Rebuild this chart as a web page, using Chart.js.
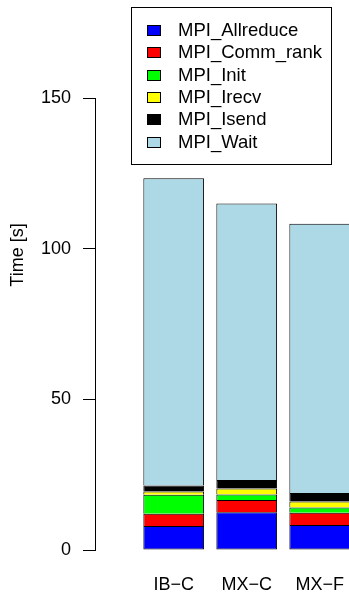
<!DOCTYPE html>
<html>
<head>
<meta charset="utf-8">
<script src="https://cdn.jsdelivr.net/npm/chart.js@4/dist/chart.umd.min.js"></script>
<style>
  html, body { margin: 0; padding: 0; background: #ffffff; }
  #wrap { width: 349px; height: 594px; position: relative; }
</style>
</head>
<body>
<div id="wrap"><canvas id="c" width="349" height="594"></canvas></div>
<script>
// ---- data ----
const categories = ['IB\u2212C', 'MX\u2212C', 'MX\u2212F'];
const seriesNames = ['MPI_Allreduce', 'MPI_Comm_rank', 'MPI_Init', 'MPI_Irecv', 'MPI_Isend', 'MPI_Wait'];
const allreduce = [8.0, 12.5, 8.3];
const commRank  = [4.0, 4.1, 4.1];
const init      = [6.3, 1.8, 1.7];
const irecv     = [1.1, 2.0, 2.0];
const isend     = [2.0, 2.8, 2.8];
const wait      = [102.0, 91.8, 89.4];
const yTicks    = [0, 50, 100, 150];
const yTitle    = 'Time [s]';

// ---- styles ----
const seriesColors = ['#0000FF', '#FF0000', '#00FF00', '#FFFF00', '#000000', '#ADD8E6'];
const FONT = "'Liberation Sans', Arial, Helvetica, sans-serif";
Chart.defaults.font.family = FONT;
Chart.defaults.font.size = 18;
Chart.defaults.color = '#000000';

const seriesValues = [allreduce, commRank, init, irecv, isend, wait];
const datasets = seriesNames.map((name, k) => ({
  label: name,
  data: seriesValues[k].map((v, i) => ({ x: i, y: v })),
  backgroundColor: seriesColors[k],
  borderColor: '#000000',
  borderWidth: 1,
  borderSkipped: k === 0 ? false : 'start'
}));

const boxLegend = {
  id: 'boxLegend',
  afterDraw(chart) {
    const ctx = chart.ctx;
    ctx.save();
    ctx.strokeStyle = '#000000';
    ctx.lineWidth = 1;
    ctx.strokeRect(131.5, 7.5, 200, 157);
    ctx.font = '18.5px ' + FONT;
    ctx.textBaseline = 'middle';
    ctx.textAlign = 'left';
    chart.data.datasets.forEach((ds, i) => {
      const cy = 30 + i * 22.3;
      ctx.fillStyle = ds.backgroundColor;
      ctx.fillRect(147.5, Math.round(cy - 5) + 0.5, 13, 10);
      ctx.strokeRect(147.5, Math.round(cy - 5) + 0.5, 13, 10);
      ctx.fillStyle = '#000000';
      ctx.fillText(ds.label, 178, cy + 1);
    });
    // y axis title
    ctx.font = '18px ' + FONT;
    ctx.translate(18, 255);
    ctx.rotate(-Math.PI / 2);
    ctx.textAlign = 'center';
    ctx.fillText(yTitle, 0, 0);
    ctx.restore();
  }
};

new Chart(document.getElementById('c'), {
  type: 'bar',
  data: { datasets },
  options: {
    responsive: false,
    animation: false,
    layout: { padding: { top: 98, left: 0, right: 0, bottom: 0 } },
    datasets: { bar: { categoryPercentage: 1.0, barPercentage: 0.832 } },
    plugins: { legend: { display: false }, tooltip: { enabled: false } },
    scales: {
      x: {
        type: 'linear',
        stacked: true,
        offset: false,
        min: -1.078,
        max: 2.401,
        grid: { display: false, drawTicks: false },
        border: { display: false },
        afterBuildTicks: (s) => { s.ticks = categories.map((c, i) => ({ value: i })); },
        afterFit: (s) => { s.height = 44; s.paddingLeft = 0; s.paddingRight = 0; },
        ticks: {
          padding: 24,
          maxRotation: 0,
          autoSkip: false,
          callback: (v) => categories[v]
        }
      },
      y: {
        type: 'linear',
        stacked: true,
        min: 0,
        max: 150,
        afterBuildTicks: (s) => { s.ticks = yTicks.map(v => ({ value: v })); },
        afterFit: (s) => { s.width = 95; },
        grid: { drawOnChartArea: false, drawTicks: true, tickLength: 12, color: '#000000', lineWidth: 1 },
        border: { display: true, color: '#000000', width: 1 },
        ticks: { padding: 12 }
      }
    }
  },
  plugins: [boxLegend]
});
</script>
</body>
</html>
